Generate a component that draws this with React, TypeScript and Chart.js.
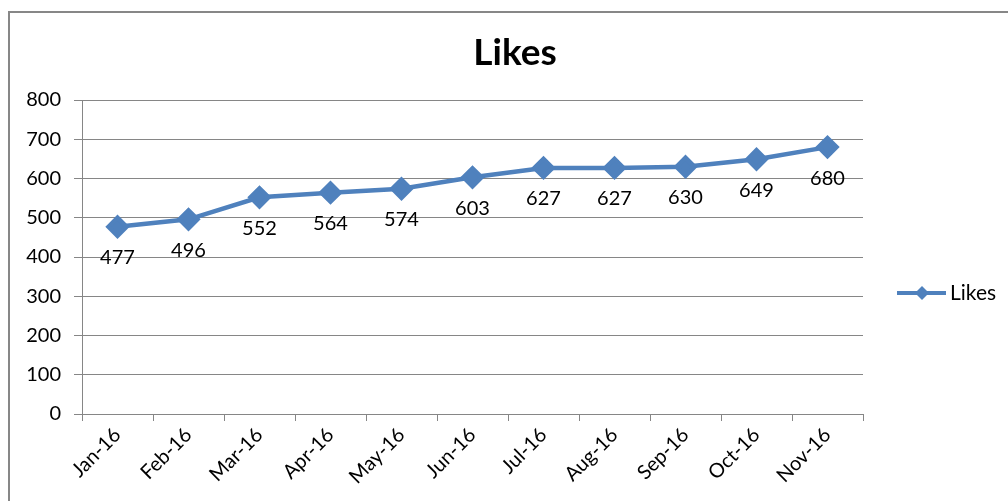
import React, { useEffect, useRef } from "react";
import { Chart, registerables } from "chart.js";

Chart.register(...registerables);

const categories = ["Jan-16", "Feb-16", "Mar-16", "Apr-16", "May-16", "Jun-16", "Jul-16", "Aug-16", "Sep-16", "Oct-16", "Nov-16"];
const likes = [477, 496, 552, 564, 574, 603, 627, 627, 630, 649, 680];
const seriesName = "Likes";
const titleText = "Likes";

const BLUE = "#4F81BD";
const GRID = "#868686";
const FONT = "Lato, 'Open Sans', sans-serif";

const decorPlugin = {
  id: "decor",
  afterDraw(chart: any) {
    const ctx = chart.ctx as CanvasRenderingContext2D;
    ctx.save();
    // outer border (top and left visible)
    ctx.strokeStyle = "#878787";
    ctx.lineWidth = 2;
    ctx.strokeRect(9, 12, 1100, 600);
    // title
    ctx.fillStyle = "#000";
    ctx.font = `bold 37px ${FONT}`;
    ctx.textAlign = "center";
    ctx.textBaseline = "middle";
    ctx.fillText(titleText, 515, 53);
    // data labels
    const meta = chart.getDatasetMeta(0);
    ctx.font = `20px ${FONT}`;
    ctx.fillStyle = "#000";
    meta.data.forEach((pt: any, i: number) => {
      ctx.fillText(String(likes[i]), pt.x, pt.y + 31);
    });
    // legend
    const ly = 293;
    ctx.strokeStyle = BLUE;
    ctx.lineWidth = 4;
    ctx.beginPath();
    ctx.moveTo(897, ly);
    ctx.lineTo(946, ly);
    ctx.stroke();
    ctx.fillStyle = BLUE;
    ctx.beginPath();
    const r = 7;
    ctx.moveTo(922, ly - r);
    ctx.lineTo(922 + r, ly);
    ctx.lineTo(922, ly + r);
    ctx.lineTo(922 - r, ly);
    ctx.closePath();
    ctx.fill();
    ctx.fillStyle = "#000";
    ctx.font = `21px ${FONT}`;
    ctx.textAlign = "left";
    ctx.fillText(seriesName, 950, ly);
    ctx.restore();
  },
};

export default function App() {
  const ref = useRef<HTMLCanvasElement | null>(null);
  useEffect(() => {
    if (!ref.current) return;
    const chart = new Chart(ref.current, {
      type: "line",
      data: {
        labels: categories,
        datasets: [
          {
            label: seriesName,
            data: likes,
            borderColor: BLUE,
            backgroundColor: BLUE,
            borderWidth: 4.5,
            pointStyle: "rectRot",
            pointRadius: 9,
            pointHoverRadius: 9,
            tension: 0,
          },
        ],
      },
      options: {
        animation: false,
        responsive: false,
        maintainAspectRatio: false,
        layout: { padding: { top: 100, right: 145, left: 0, bottom: 0 } },
        plugins: { legend: { display: false }, title: { display: false }, tooltip: { enabled: false } },
        scales: {
          x: {
            offset: true,
            grid: { drawOnChartArea: false, drawTicks: true, tickLength: 7, color: GRID, offset: true },
            border: { color: GRID, width: 1 },
            ticks: {
              color: "#000",
              font: { family: FONT, size: 20 },
              minRotation: 45,
              maxRotation: 45,
              padding: 2,
              autoSkip: false,
            },
            afterFit(scale: any) {
              scale.height = 87;
            },
          },
          y: {
            min: 0,
            max: 800,
            ticks: { stepSize: 100, color: "#000", font: { family: FONT, size: 20 }, padding: 13 },
            grid: { color: GRID, tickLength: 8, drawTicks: true },
            border: { color: GRID, width: 1 },
            afterFit(scale: any) {
              scale.width = 82;
            },
          },
        },
      },
      plugins: [decorPlugin],
    });
    return () => chart.destroy();
  }, []);
  return (
    <div style={{ position: "fixed", left: 0, top: 0, width: 1008, height: 501, background: "#fff" }}>
      <canvas ref={ref} width={1008} height={501} style={{ width: 1008, height: 501 }} />
    </div>
  );
}
